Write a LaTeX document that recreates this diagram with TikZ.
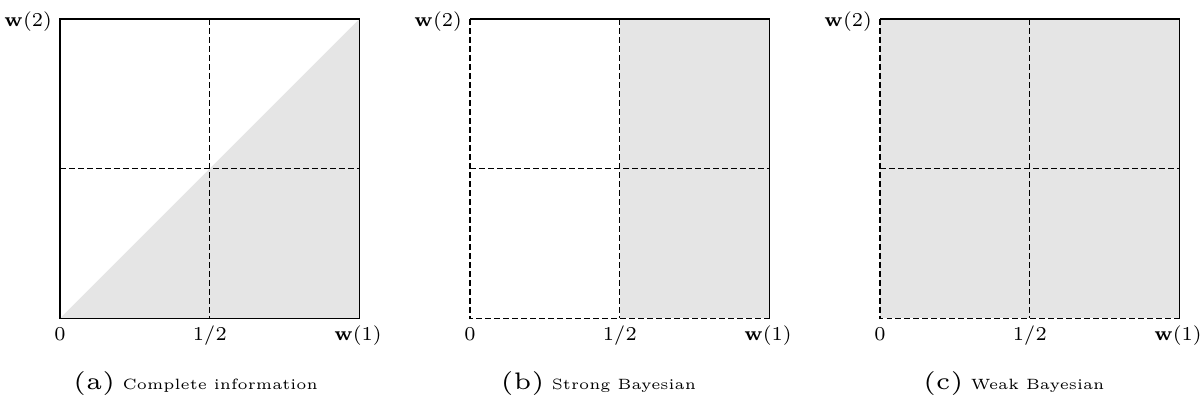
\documentclass[tikz,border=0pt]{standalone}
\usepackage{graphicx}
\newcommand{\caplabel}[1]{\scalebox{1.7}{\tiny(#1)}}
\newcommand{\captext}[1]{\scalebox{1.06}{\tiny #1}}
\begin{document}
\begin{tikzpicture}[x=0.0125cm,y=-0.0125cm,
  shadearea/.style={fill=black!10, draw=none},
  midline/.style={line width=0.3pt, dash pattern=on 2pt off 1.2pt},
  solidframe/.style={line width=0.4pt},
  dashframe/.style={line width=0.4pt, dash pattern=on 2pt off 1.2pt},
  lbl/.style={inner sep=0pt, font=\scriptsize},
  captxt/.style={inner sep=0pt, anchor=base}]
\useasboundingbox (0,0) rectangle (1202,402);

% ---------- panel (a)
\begin{scope}[shift={(60,0)}]
  \coordinate (aTL) at (0,19);     \coordinate (aTR) at (299.5,19);
  \coordinate (aBL) at (0,318.5);  \coordinate (aBR) at (299.5,318.5);
  \coordinate (aTM) at (149.75,19);  \coordinate (aBM) at (149.75,318.5);
  \coordinate (aLM) at (0,168.75);   \coordinate (aRM) at (299.5,168.75);
  \fill[shadearea] (aBL) -- (aBR) -- (aTR) -- cycle;
  \draw[midline] (aTM) -- (aBM);
  \draw[midline] (aLM) -- (aRM);
  \draw[solidframe] (aBL) rectangle (aTR);
  \node[lbl, anchor=base east] (aw2) at (-7.5,27) {$\mathbf{w}(2)$};
  \node[lbl, anchor=base] (a0) at (0,341) {$0$};
  \node[lbl, anchor=base] (ahalf) at (149.75,341) {$1/2$};
  \node[lbl, anchor=base] (aw1) at (298,341) {$\mathbf{w}(1)$};
  \node[captxt] (acap) at (135.5,389.5) {\caplabel{a}\hspace{2.6pt}\captext{Complete information}};
\end{scope}

% ---------- panel (b)
\begin{scope}[shift={(470,0)}]
  \coordinate (bTL) at (0,19);     \coordinate (bTR) at (299.5,19);
  \coordinate (bBL) at (0,318.5);  \coordinate (bBR) at (299.5,318.5);
  \coordinate (bTM) at (149.75,19);  \coordinate (bBM) at (149.75,318.5);
  \coordinate (bLM) at (0,168.75);   \coordinate (bRM) at (299.5,168.75);
  \fill[shadearea] (bBM) rectangle (bTR);
  \draw[midline] (bTM) -- (bBM);
  \draw[midline] (bLM) -- (bRM);
  \draw[solidframe] (bTL) -- (bTR) -- (bBR);
  \draw[dashframe] (bTL) -- (bBL) -- (bBR);
  \node[lbl, anchor=base east] (bw2) at (-7.5,27) {$\mathbf{w}(2)$};
  \node[lbl, anchor=base] (b0) at (0,341) {$0$};
  \node[lbl, anchor=base] (bhalf) at (149.75,341) {$1/2$};
  \node[lbl, anchor=base] (bw1) at (298,341) {$\mathbf{w}(1)$};
  \node[captxt] (bcap) at (128.3,389.5) {\caplabel{b}\hspace{2.6pt}\captext{Strong Bayesian}};
\end{scope}

% ---------- panel (c)
\begin{scope}[shift={(880,0)}]
  \coordinate (cTL) at (0,19);     \coordinate (cTR) at (299.5,19);
  \coordinate (cBL) at (0,318.5);  \coordinate (cBR) at (299.5,318.5);
  \coordinate (cTM) at (149.75,19);  \coordinate (cBM) at (149.75,318.5);
  \coordinate (cLM) at (0,168.75);   \coordinate (cRM) at (299.5,168.75);
  \fill[shadearea] (cBL) rectangle (cTR);
  \draw[midline] (cTM) -- (cBM);
  \draw[midline] (cLM) -- (cRM);
  \draw[solidframe] (cTL) -- (cTR) -- (cBR);
  \draw[dashframe] (cTL) -- (cBL) -- (cBR);
  \node[lbl, anchor=base east] (cw2) at (-7.5,27) {$\mathbf{w}(2)$};
  \node[lbl, anchor=base] (c0) at (0,341) {$0$};
  \node[lbl, anchor=base] (chalf) at (149.75,341) {$1/2$};
  \node[lbl, anchor=base] (cw1) at (298,341) {$\mathbf{w}(1)$};
  \node[captxt] (ccap) at (133.7,389.5) {\caplabel{c}\hspace{2.6pt}\captext{Weak Bayesian}};
\end{scope}
\end{tikzpicture}
\end{document}
